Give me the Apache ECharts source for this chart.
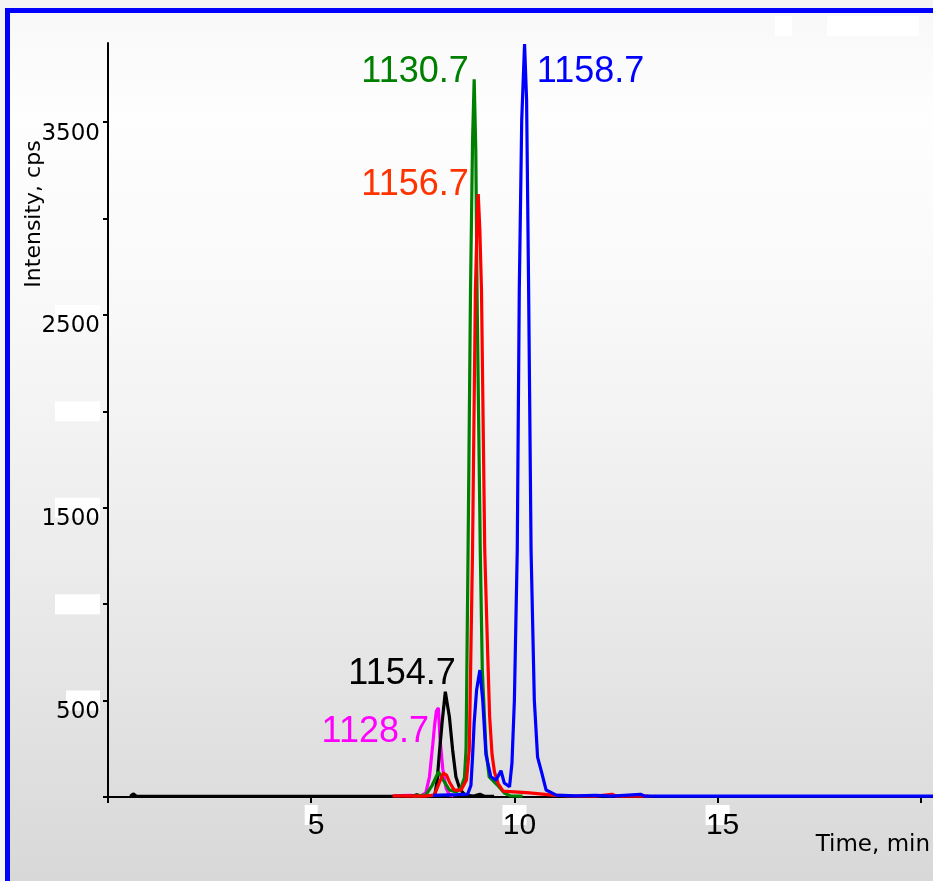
<!DOCTYPE html>
<html>
<head>
<meta charset="utf-8">
<script src="https://cdn.jsdelivr.net/npm/echarts@6/dist/echarts.min.js"></script>
<style>
  html, body { margin: 0; padding: 0; background: #f4f4f4; }
  #main { width: 933px; height: 881px; }
</style>
</head>
<body>
<div id="main"></div>
<script>
// XIC traces, [time (min), intensity (cps)]
const seriesNames = ['1128.7', '1154.7', '1130.7', '1156.7', '1158.7'];
const seriesColors = ['#ff00ff', '#000000', '#008000', '#ff0000', '#0000ff'];
const labelColors = ['#ff00ff', '#000000', '#008000', '#ff3300', '#0000ff'];

const trace1128 = [[7.05,6],[7.4,8],[7.7,6],[7.82,21],[7.91,105],[7.99,270],[8.04,380],[8.08,445],[8.13,462],
  [8.17,300],[8.24,140],[8.32,45],[8.40,12],[8.5,5]];
const trace1154 = [[0.55,4],[0.62,16],[0.7,4],[7.5,5],[7.6,12],[7.7,5],[8.0,6],[8.05,20],[8.10,88],[8.15,218],
  [8.22,384],[8.30,546],[8.35,480],[8.40,416],[8.48,244],[8.56,105],[8.65,47],[8.72,25],[8.79,10],[9.0,5],
  [9.15,14],[9.25,5],[9.5,4]];
const trace1130 = [[7.5,5],[7.82,10],[7.98,62],[8.13,130],[8.25,88],[8.40,36],[8.57,26],[8.69,50],[8.77,100],
  [8.81,244],[8.86,1280],[8.92,2628],[8.97,3400],[9.01,3722],[9.05,3350],[9.08,2628],[9.16,1280],[9.21,658],
  [9.30,244],[9.38,104],[9.58,62],[9.75,21],[9.9,6],[10.2,5]];
const trace1156 = [[7.0,6],[7.8,5],[8.03,10],[8.15,73],[8.25,124],[8.33,114],[8.40,78],[8.52,36],[8.69,36],
  [8.82,88],[8.89,244],[8.97,1280],[9.04,2628],[9.09,3043],[9.11,3126],[9.15,2939],[9.19,2628],[9.27,1280],
  [9.34,762],[9.39,420],[9.45,220],[9.51,130],[9.6,70],[9.72,30],[10.37,21],[10.94,10],[11.35,6],[12.0,5],
  [12.4,14],[12.5,5],[13.3,5]];
const trace1158 = [[8.0,8],[8.6,12],[8.85,15],[8.93,60],[8.97,208],[9.01,384],[9.07,555],[9.15,658],[9.22,503],
  [9.30,220],[9.42,105],[9.55,88],[9.67,136],[9.75,73],[9.88,53],[9.94,176],[10.0,503],[10.07,1280],[10.12,2628],
  [10.18,3510],[10.25,3905],[10.30,3613],[10.35,2628],[10.41,1280],[10.49,503],[10.57,207],[10.68,120],[10.78,36],
  [11.03,10],[11.5,6],[12.0,8],[12.4,5],[13.1,14],[13.2,5],[20.3,5]];
const traces = [trace1128, trace1154, trace1130, trace1156, trace1158];

const xTicks = [0, 5, 10, 15, 20];
const xTickLabels = [5, 10, 15];
const yTicks = [0, 500, 1000, 1500, 2000, 2500, 3000, 3500];
const yTickLabels = [500, 1500, 2500, 3500];

// where each peak label sits (right edge / left edge, middle)
const labelAnchors = [
  { coord: [7.91, 337], pos: 'left' },
  { coord: [8.57, 635], pos: 'left' },
  { coord: [8.89, 3761], pos: 'left' },
  { coord: [8.89, 3173], pos: 'left' },
  { coord: [10.54, 3761], pos: 'right' }
];

const chart = echarts.init(document.getElementById('main'));

const series = traces.map(function (d, i) {
  return {
    name: seriesNames[i],
    type: 'line',
    data: d,
    showSymbol: false,
    lineStyle: { color: seriesColors[i], width: 3.2 },
    itemStyle: { color: seriesColors[i] },
    animation: false,
    markPoint: {
      symbol: 'circle',
      symbolSize: 1,
      itemStyle: { color: 'transparent' },
      label: {
        show: true,
        position: labelAnchors[i].pos,
        distance: 0,
        formatter: seriesNames[i],
        color: labelColors[i],
        fontSize: 36,
        fontFamily: 'Liberation Sans'
      },
      data: [{ coord: labelAnchors[i].coord }]
    }
  };
});

chart.setOption({
  animation: false,
  graphic: [
    {
      type: 'rect', z: -10, silent: true,
      shape: { x: 10, y: 13, width: 923, height: 868 },
      style: {
        fill: new echarts.graphic.LinearGradient(0, 0, 0, 1, [
          { offset: 0, color: '#f8f8f8' },
          { offset: 0.12, color: '#fefefe' },
          { offset: 0.35, color: '#f8f8f8' },
          { offset: 0.65, color: '#ebebeb' },
          { offset: 1, color: '#d8d8d8' }
        ])
      }
    },
    { type: 'rect', z: 5, shape: { x: 775, y: 16, width: 17, height: 20 }, style: { fill: '#ffffff' } },
    { type: 'rect', z: 5, shape: { x: 827, y: 16, width: 92, height: 20 }, style: { fill: '#ffffff' } },
    {
      type: 'text', z: 5, x: 34, y: 214, rotation: Math.PI / 2,
      style: { text: 'Intensity, cps', fontSize: 22, fontFamily: 'DejaVu Sans', fill: '#000',
        textAlign: 'center', textVerticalAlign: 'middle' }
    },
    {
      type: 'text', z: 5, x: 930, y: 845,
      style: { text: 'Time, min', fontSize: 23, fontFamily: 'DejaVu Sans', fill: '#000',
        textAlign: 'right', textVerticalAlign: 'middle' }
    },
    {
      type: 'rect', z: 100, silent: true,
      shape: { x: 7.5, y: 10.5, width: 1000, height: 1000 },
      style: { fill: 'none', stroke: '#0000ff', lineWidth: 5 }
    }
  ],
  grid: { left: 108, top: 43, right: 0, bottom: 84 },
  xAxis: [
    {
      type: 'value', min: 0, max: 20.3, interval: 5, z: 1,
      axisLine: { lineStyle: { color: '#000', width: 2 } },
      axisTick: { length: 6, customValues: xTicks, lineStyle: { color: '#000', width: 2 } },
      splitLine: { show: false },
      axisLabel: {
        customValues: xTickLabels,
        formatter: function (v) { return String(v); },
        color: '#000', fontSize: 30, fontFamily: 'Liberation Sans', margin: 14, padding: [0, 0, 0, 10]
      }
    },
    {
      type: 'value', min: 0, max: 20.3, interval: 5, position: 'bottom', z: 0,
      axisLine: { show: false }, axisTick: { show: false }, splitLine: { show: false },
      axisLabel: {
        margin: 8,
        customValues: xTickLabels,
        formatter: function (v) { return v === 5 ? '{n| }' : '{m| }'; },
        rich: {
          n: { width: 13, height: 20, backgroundColor: '#ffffff' },
          m: { width: 24, height: 20, backgroundColor: '#ffffff' }
        }
      }
    }
  ],
  yAxis: [
    {
      type: 'value', min: 0, max: 3910, interval: 500, z: 1,
      axisLine: { show: true, lineStyle: { color: '#000', width: 2 } },
      axisTick: { show: true, length: 5, customValues: yTicks, lineStyle: { color: '#000', width: 2 } },
      splitLine: { show: false },
      axisLabel: {
        customValues: yTickLabels,
        formatter: function (v) { return String(v); },
        color: '#000', fontSize: 23, fontFamily: 'DejaVu Sans', margin: 8, verticalAlign: 'top'
      }
    },
    {
      type: 'value', min: 0, max: 3910, interval: 500, position: 'left', z: 0,
      axisLine: { show: false }, axisTick: { show: false }, splitLine: { show: false },
      axisLabel: {
        margin: 8,
        customValues: [500, 1000, 1500, 2000, 2500],
        formatter: function (v) { return v === 500 ? '{s| }' : '{w| }'; },
        rich: {
          w: { width: 45, height: 20, backgroundColor: '#ffffff' },
          s: { width: 34, height: 20, backgroundColor: '#ffffff' }
        }
      }
    }
  ],
  series: series
});
</script>
</body>
</html>
